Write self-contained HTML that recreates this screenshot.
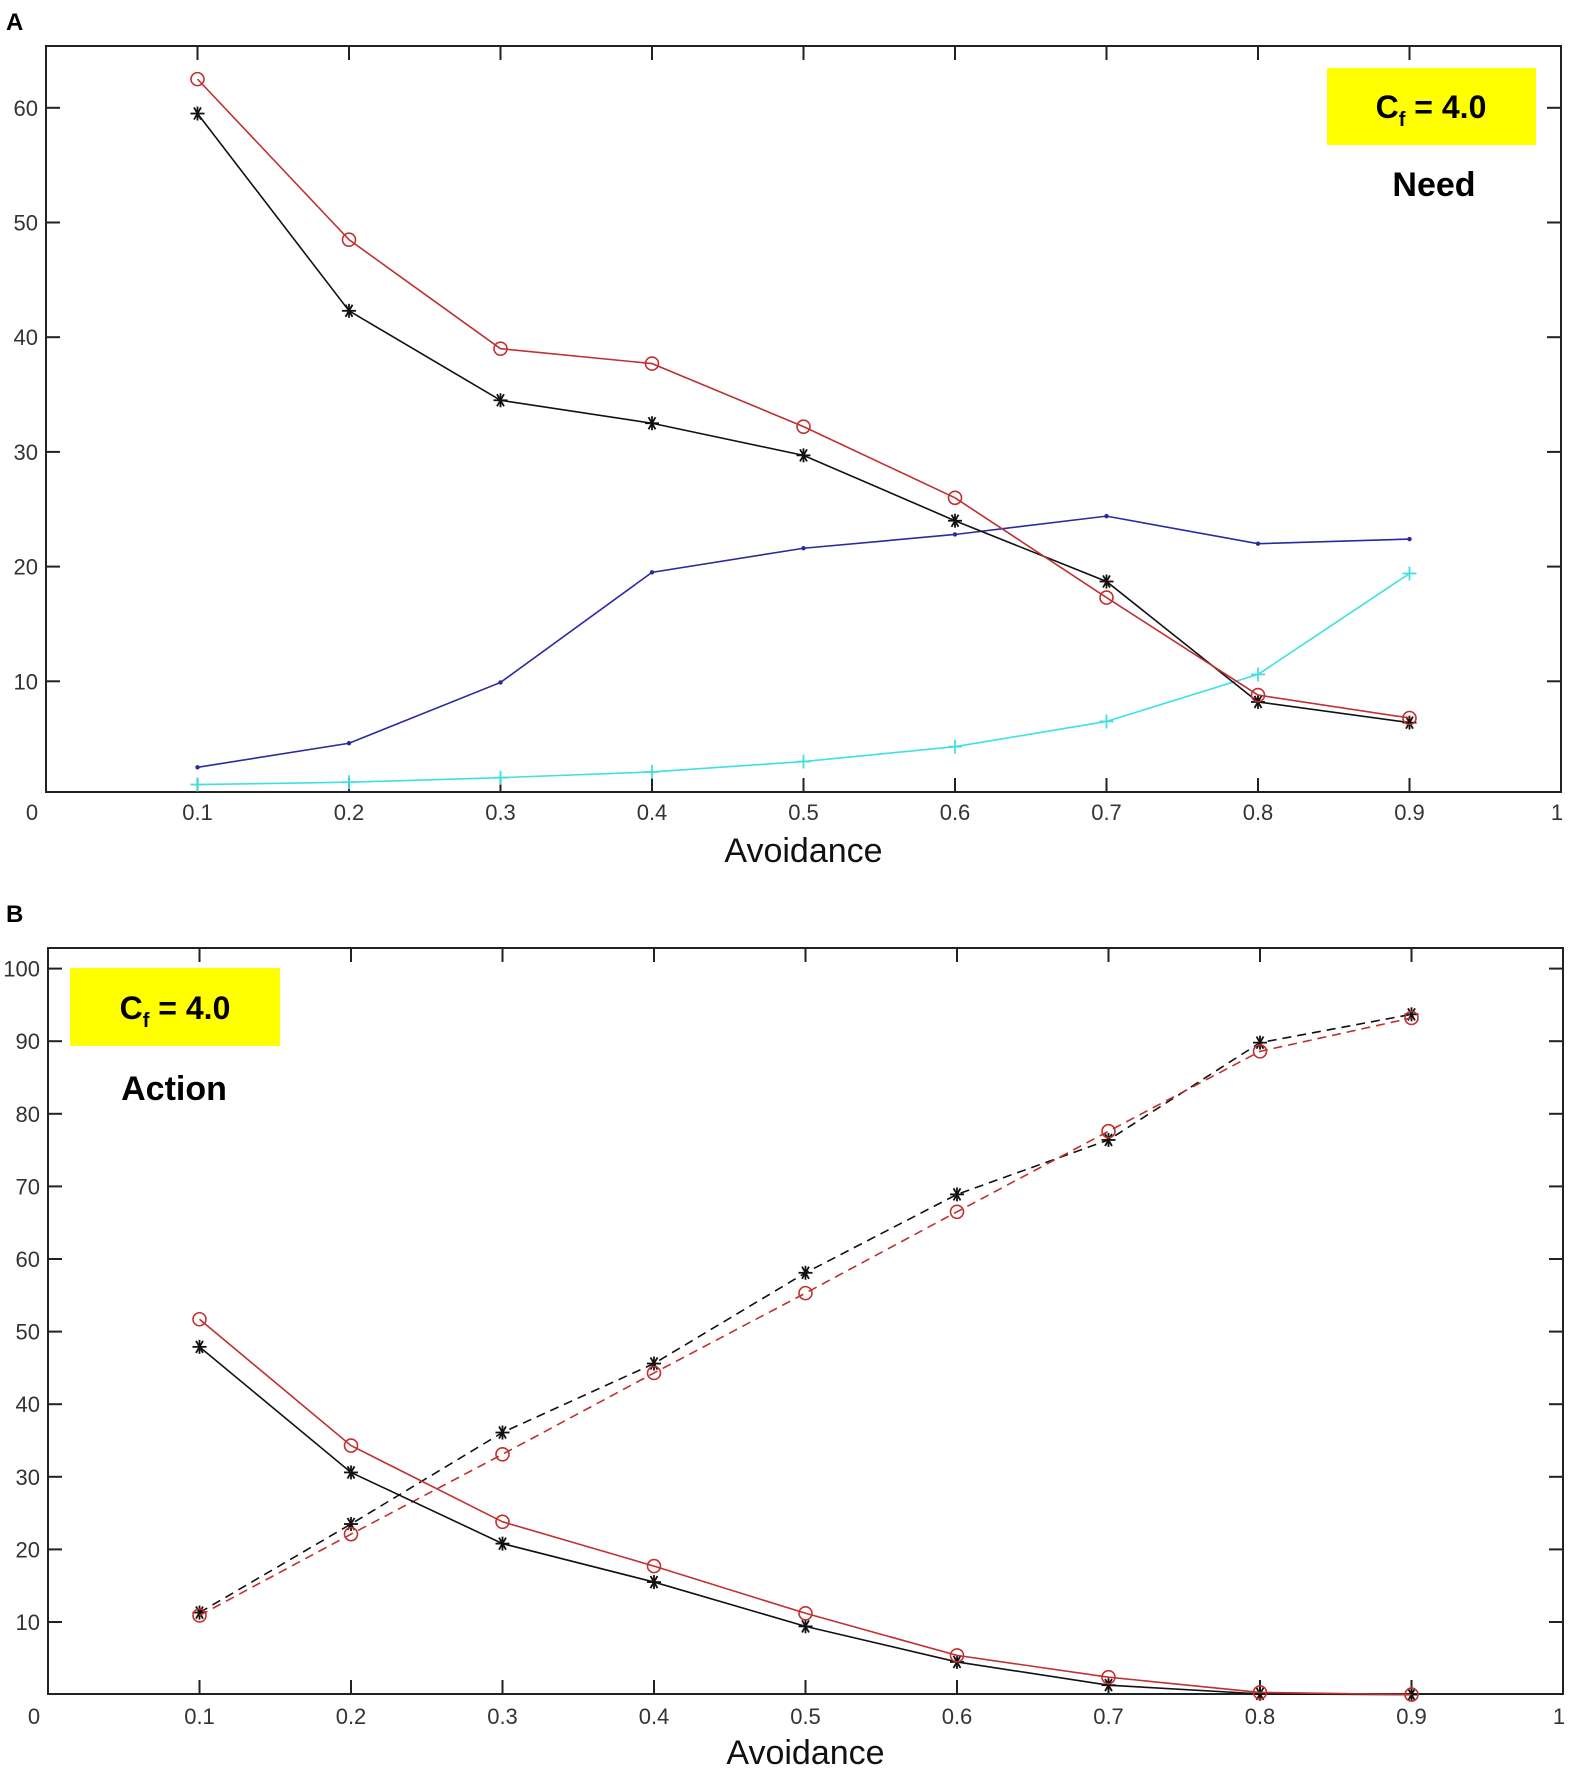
<!DOCTYPE html>
<html><head><meta charset="utf-8"><style>
html,body{margin:0;padding:0;background:#fff}
svg{display:block;font-family:"Liberation Sans",sans-serif}
</style></head><body>
<svg id="s" width="1570" height="1772" xmlns="http://www.w3.org/2000/svg"></svg>
<script>
const s=document.getElementById('s');let h='';
function panel(L,T,R,B,y0,k,ymax,ystep,series,xlY,avY){
 const X=v=>L+(R-L)*v, Y=v=>y0-k*v;
 h+=`<rect x="${L}" y="${T}" width="${R-L}" height="${B-T}" fill="none" stroke="#222" stroke-width="2"/>`;
 for(let i=1;i<=9;i++){const x=X(i/10);h+=`<line x1="${x}" y1="${B}" x2="${x}" y2="${B-14}" stroke="#222" stroke-width="2"/><line x1="${x}" y1="${T}" x2="${x}" y2="${T+14}" stroke="#222" stroke-width="2"/>`;
  h+=`<text x="${x}" y="${xlY}" font-size="22" text-anchor="middle" fill="#333">0.${i}</text>`;}
 h+=`<text x="${L-14}" y="${xlY}" font-size="22" text-anchor="middle" fill="#333">0</text>`;
 h+=`<text x="${R-4}" y="${xlY}" font-size="22" text-anchor="middle" fill="#333">1</text>`;
 for(let v=ystep;v<=ymax;v+=ystep){const y=Y(v);h+=`<line x1="${L}" y1="${y}" x2="${L+14}" y2="${y}" stroke="#222" stroke-width="2"/><line x1="${R}" y1="${y}" x2="${R-14}" y2="${y}" stroke="#222" stroke-width="2"/><text x="${L-8}" y="${y+8}" font-size="22" text-anchor="end" fill="#333">${v}</text>`;}
 h+=`<text x="${(L+R)/2+0}" y="${avY}" font-size="34" text-anchor="middle" fill="#111">Avoidance</text>`;
 for(const se of series){
  const pts=se.d.map((v,i)=>[X((i+1)/10),Y(v)]);
  h+=`<polyline points="${pts.map(p=>p.join(',')).join(' ')}" fill="none" stroke="${se.c}" stroke-width="1.6" ${se.dash?'stroke-dasharray="9,6"':''}/>`;
  for(const [x,y] of pts){
   if(se.m=='o')h+=`<circle cx="${x}" cy="${y}" r="6.5" fill="none" stroke="${se.c}" stroke-width="1.6"/>`;
   else if(se.m=='*'){for(const a of [0,60,120]){const r=a*Math.PI/180;h+=`<line x1="${x-7*Math.cos(r)}" y1="${y-7*Math.sin(r)}" x2="${x+7*Math.cos(r)}" y2="${y+7*Math.sin(r)}" stroke="${se.c}" stroke-width="1.8"/>`;}h+=`<line x1="${x}" y1="${y-7}" x2="${x}" y2="${y+7}" stroke="${se.c}" stroke-width="1.8"/>`;}
   else if(se.m=='+')h+=`<line x1="${x-7}" y1="${y}" x2="${x+7}" y2="${y}" stroke="${se.c}" stroke-width="1.8"/><line x1="${x}" y1="${y-7}" x2="${x}" y2="${y+7}" stroke="${se.c}" stroke-width="1.8"/>`;
   else h+=`<circle cx="${x}" cy="${y}" r="2.2" fill="${se.c}"/>`;
  }
 }
}
h+=`<text x="6" y="30" font-size="24" font-weight="bold">A</text>`;
panel(46,46,1561,792,796,11.47,60,10,[
 {c:'#2a2aa0',m:'.',d:[2.5,4.6,9.9,19.5,21.6,22.8,24.4,22,22.4]},
 {c:'#40e0e0',m:'+',d:[1,1.2,1.6,2.1,3,4.3,6.5,10.6,19.4]},
 {c:'#111',m:'*',d:[59.5,42.3,34.5,32.5,29.7,24,18.7,8.2,6.4]},
 {c:'#c03030',m:'o',d:[62.5,48.5,39,37.7,32.2,26,17.3,8.8,6.8]}
],820,862);
h+=`<text x="6" y="922" font-size="24" font-weight="bold">B</text>`;
panel(48,948,1563,1694,1694.6,7.26,100,10,[
 {c:'#111',m:'*',dash:1,d:[11.3,23.5,36.1,45.6,58.1,68.9,76.4,89.8,93.7]},
 {c:'#c03030',m:'o',dash:1,d:[10.9,22.1,33.1,44.3,55.3,66.5,77.6,88.6,93.2]},
 {c:'#111',m:'*',d:[47.9,30.6,20.8,15.5,9.4,4.5,1.3,0.1,0]},
 {c:'#c03030',m:'o',d:[51.7,34.3,23.8,17.7,11.2,5.4,2.4,0.3,0]}
],1724,1764);
h+=`<rect x="1327" y="68" width="209" height="77" fill="#ffff00"/><text x="1431" y="118" font-size="32" font-weight="bold" text-anchor="middle">C<tspan font-size="20" dy="8">f</tspan><tspan dy="-8"> = 4.0</tspan></text><text x="1434" y="196" font-size="34" font-weight="bold" text-anchor="middle">Need</text>`;
h+=`<rect x="70" y="968" width="210" height="78" fill="#ffff00"/><text x="175" y="1019" font-size="32" font-weight="bold" text-anchor="middle">C<tspan font-size="20" dy="8">f</tspan><tspan dy="-8"> = 4.0</tspan></text><text x="174" y="1100" font-size="34" font-weight="bold" text-anchor="middle">Action</text>`;
s.innerHTML=h;
</script>
</body></html>
